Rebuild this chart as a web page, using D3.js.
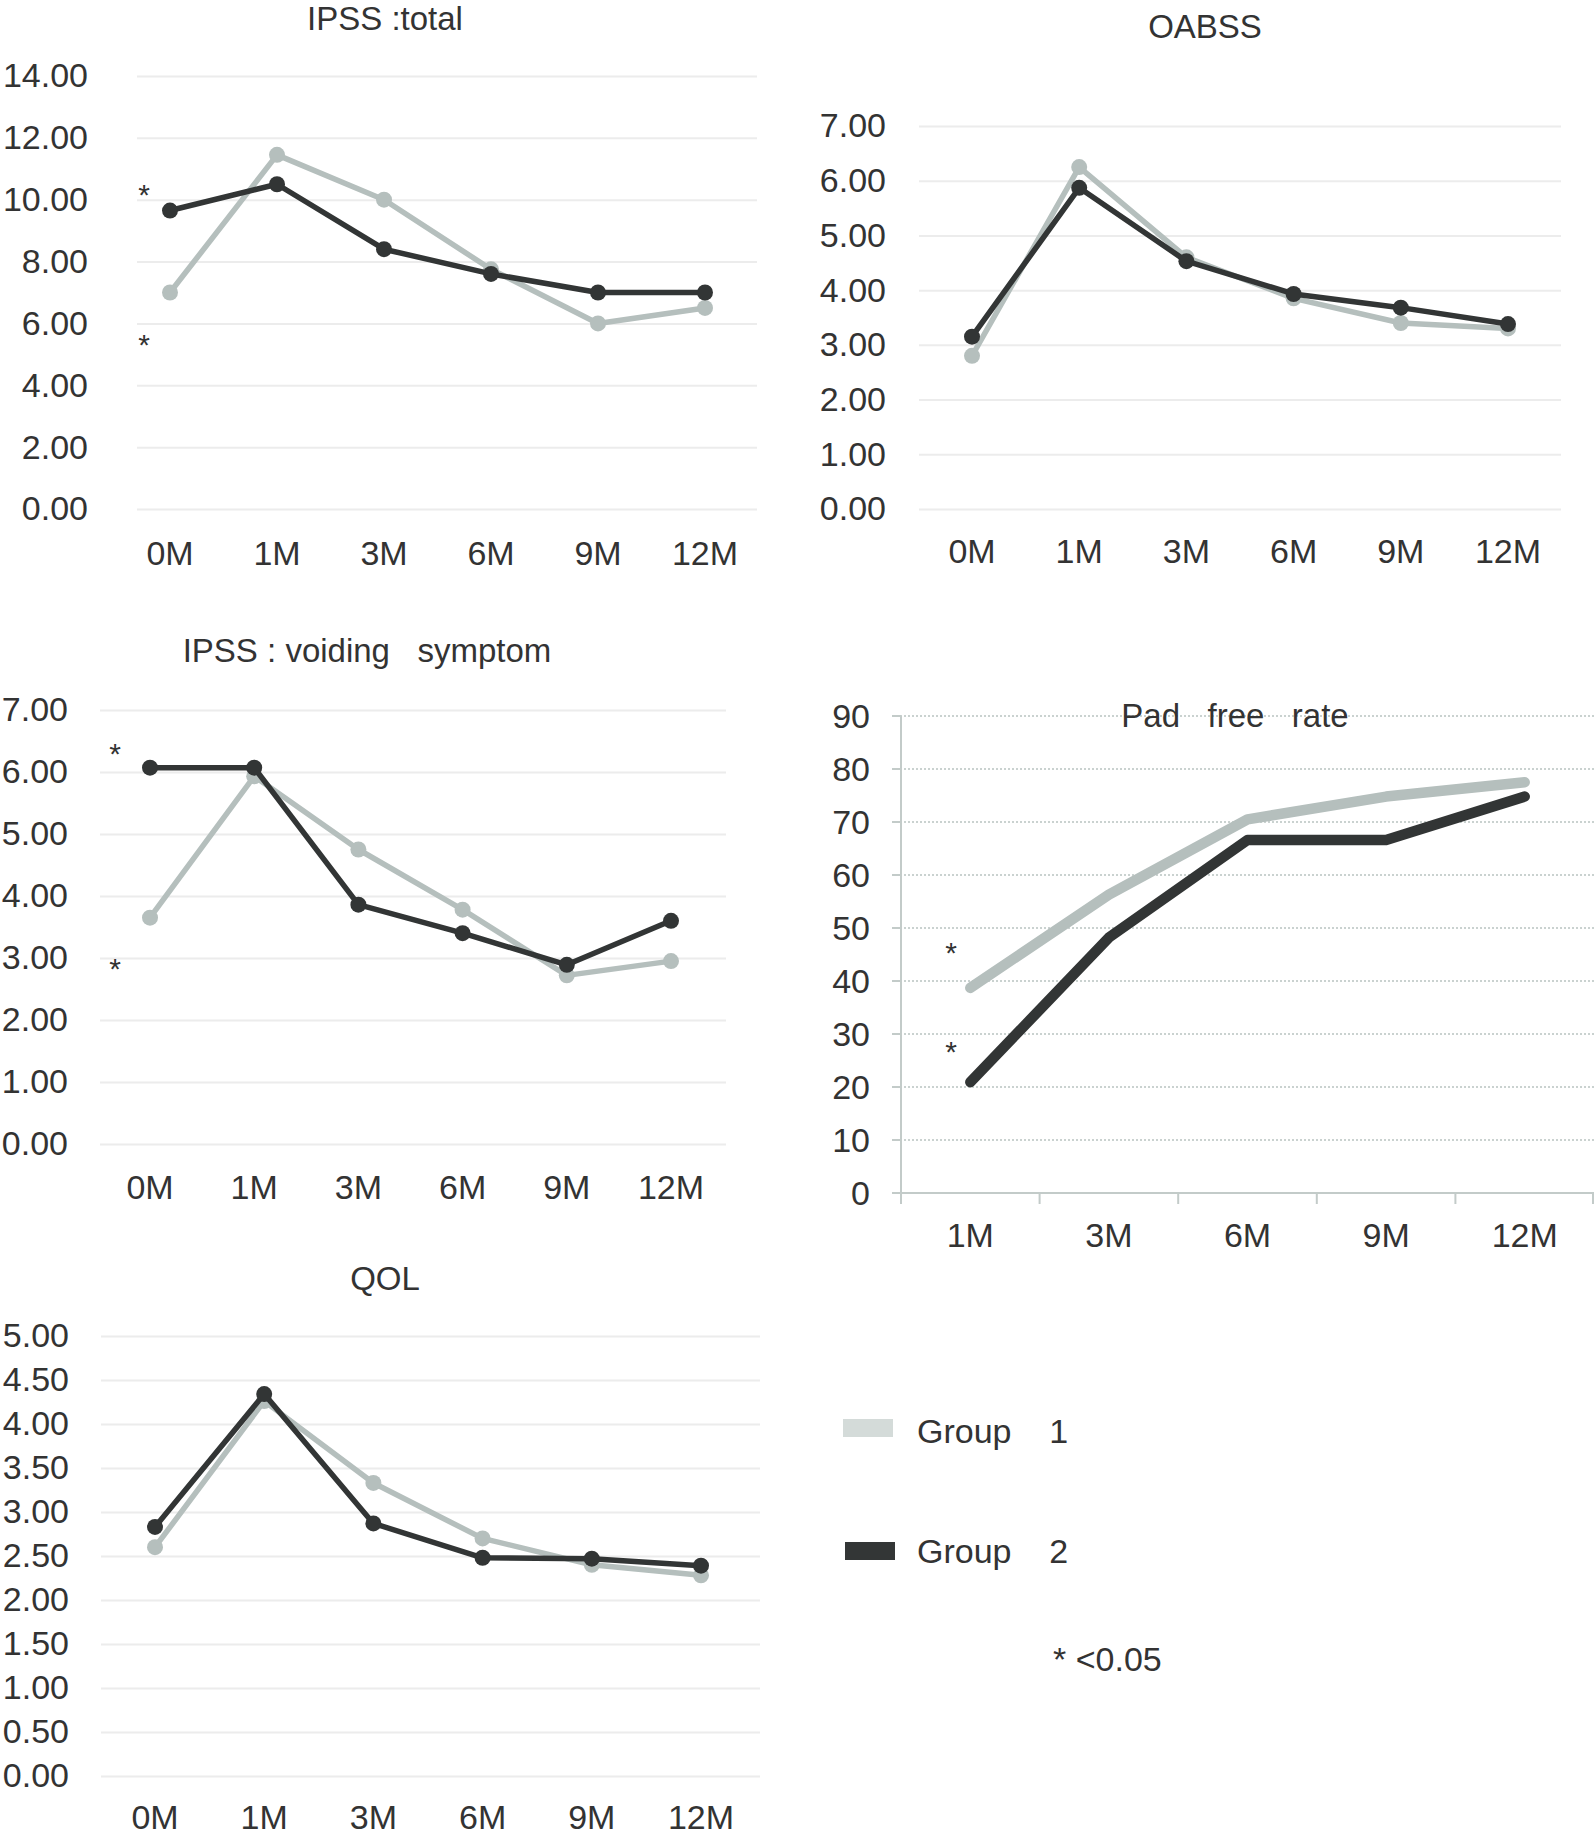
<!DOCTYPE html>
<html>
<head>
<meta charset="utf-8">
<script src="https://cdn.jsdelivr.net/npm/d3@7"></script>
<style>
  body { margin: 0; background: #fff; }
  text { font-family: "Liberation Sans", Arial, sans-serif; fill: #333; white-space: pre; }
</style>
</head>
<body>
<div id="container"></div>
<script>
// categories
var months = ["0M", "1M", "3M", "6M", "9M", "12M"];
var padMonths = ["1M", "3M", "6M", "9M", "12M"];

// series values
var ipssTotalG1 = [7.0, 11.45, 10.0, 7.75, 6.0, 6.5];
var ipssTotalG2 = [9.65, 10.5, 8.4, 7.6, 7.0, 7.0];
var oabssG1 = [2.8, 6.25, 4.6, 3.85, 3.4, 3.3];
var oabssG2 = [3.15, 5.87, 4.53, 3.93, 3.68, 3.38];
var voidingG1 = [3.65, 5.93, 4.75, 3.78, 2.72, 2.95];
var voidingG2 = [6.07, 6.07, 3.86, 3.4, 2.89, 3.6];
var qolG1 = [2.6, 4.26, 3.33, 2.7, 2.4, 2.28];
var qolG2 = [2.83, 4.34, 2.87, 2.48, 2.47, 2.39];
var padG1 = [38.7, 56.3, 70.5, 74.8, 77.5];
var padG2 = [20.9, 48.2, 66.6, 66.6, 74.8];

// tick labels
var ticks14 = [0, 2, 4, 6, 8, 10, 12, 14];
var ticks7 = [0, 1, 2, 3, 4, 5, 6, 7];
var ticks5 = [0, 0.5, 1, 1.5, 2, 2.5, 3, 3.5, 4, 4.5, 5];
var ticks90 = [0, 10, 20, 30, 40, 50, 60, 70, 80, 90];

var groups = ["Group    1", "Group    2"];
var lightCol = "#b5bfbd", darkCol = "#323535";

var W = 1594, H = 1841;
var svg = d3.select("div#container")
  .append("svg")
  .attr("width", W)
  .attr("height", H);

// small line charts with dots
function linePanel(cfg) {
  var x = d3.scalePoint().domain(months).range([cfg.x0, cfg.x1]);
  var y = d3.scaleLinear().domain([0, cfg.max]).range([cfg.yBottom, cfg.yTop]);
  var g = svg.append("g");

  var yAxis = d3.axisLeft(y)
    .tickValues(cfg.ticks)
    .tickFormat(d3.format(".2f"))
    .tickSize(-(cfg.gridRight - cfg.gridLeft))
    .tickPadding(cfg.gridLeft - cfg.labelEnd);
  var ya = g.append("g").attr("transform", "translate(" + cfg.gridLeft + ",0)").call(yAxis);
  ya.select(".domain").remove();
  ya.selectAll("line").attr("stroke", "#ececec").attr("stroke-width", 2);
  ya.selectAll("text").attr("fill", "#333").style("font-size", "34px").attr("font-family", null);

  g.selectAll(".xl").data(months).enter().append("text")
    .attr("x", function(d) { return x(d); })
    .attr("y", cfg.xLabelY)
    .attr("text-anchor", "middle")
    .style("font-size", "34px")
    .text(function(d) { return d; });

  g.append("text")
    .attr("x", cfg.titleX).attr("y", cfg.titleY)
    .attr("text-anchor", "middle")
    .style("font-size", "33px")
    .text(cfg.title);

  var line = d3.line().x(function(d, i) { return x(months[i]); }).y(function(d) { return y(d); });
  [[cfg.g1, lightCol], [cfg.g2, darkCol]].forEach(function(s) {
    g.append("path").datum(s[0])
      .attr("d", line)
      .attr("fill", "none")
      .attr("stroke", s[1])
      .attr("stroke-width", 5.5)
      .attr("stroke-linejoin", "round");
    g.selectAll(null).data(s[0]).enter().append("circle")
      .attr("cx", function(d, i) { return x(months[i]); })
      .attr("cy", function(d) { return y(d); })
      .attr("r", 8)
      .attr("fill", s[1]);
  });

  (cfg.stars || []).forEach(function(st) {
    g.append("text").attr("x", st[0]).attr("y", st[1] + 17)
      .attr("text-anchor", "middle").style("font-size", "30px").text("*");
  });
}

linePanel({title: "IPSS :total", titleX: 385, titleY: 30, max: 14, ticks: ticks14,
  g1: ipssTotalG1, g2: ipssTotalG2, x0: 170, x1: 705, gridLeft: 137, gridRight: 757,
  labelEnd: 88, yTop: 76, yBottom: 509, xLabelY: 565, stars: [[144, 188], [144, 338]]});

linePanel({title: "OABSS", titleX: 1205, titleY: 38, max: 7, ticks: ticks7,
  g1: oabssG1, g2: oabssG2, x0: 972, x1: 1508, gridLeft: 919, gridRight: 1561,
  labelEnd: 886, yTop: 126, yBottom: 509, xLabelY: 563});

linePanel({title: "IPSS : voiding   symptom", titleX: 367, titleY: 662, max: 7, ticks: ticks7,
  g1: voidingG1, g2: voidingG2, x0: 150, x1: 671, gridLeft: 100, gridRight: 726,
  labelEnd: 68, yTop: 710, yBottom: 1144, xLabelY: 1199, stars: [[115, 747], [115, 962]]});

linePanel({title: "QOL", titleX: 385, titleY: 1290, max: 5, ticks: ticks5,
  g1: qolG1, g2: qolG2, x0: 155, x1: 701, gridLeft: 101, gridRight: 760,
  labelEnd: 69, yTop: 1336, yBottom: 1776, xLabelY: 1829});

// pad free rate panel: category axis, dotted grid, thick lines
(function() {
  var x = d3.scaleBand().domain(padMonths).range([901, 1594]);
  var y = d3.scaleLinear().domain([0, 90]).range([1193, 716]);
  var g = svg.append("g");
  var axisCol = "#c3cbc9";

  g.selectAll(".grid").data(ticks90.filter(function(d) { return d > 0; })).enter().append("line")
    .attr("x1", 892).attr("x2", 1594)
    .attr("y1", function(d) { return y(d); }).attr("y2", function(d) { return y(d); })
    .attr("stroke", "#b9c3c1").attr("stroke-width", 1.5).attr("stroke-dasharray", "2,2");
  g.selectAll(".ytick").data(ticks90).enter().append("line")
    .attr("x1", 892).attr("x2", 901)
    .attr("y1", function(d) { return y(d); }).attr("y2", function(d) { return y(d); })
    .attr("stroke", axisCol).attr("stroke-width", 2);
  g.append("line").attr("x1", 901).attr("x2", 901).attr("y1", y(90)).attr("y2", 1204)
    .attr("stroke", axisCol).attr("stroke-width", 2);
  g.append("line").attr("x1", 892).attr("x2", 1594).attr("y1", y(0)).attr("y2", y(0))
    .attr("stroke", axisCol).attr("stroke-width", 2);
  var edges = padMonths.map(function(d) { return x(d); }).concat([x.range()[1] - 1]);
  g.selectAll(".xtick").data(edges).enter().append("line")
    .attr("x1", function(d) { return d; }).attr("x2", function(d) { return d; })
    .attr("y1", y(0)).attr("y2", 1204)
    .attr("stroke", axisCol).attr("stroke-width", 2);

  g.selectAll(".yl").data(ticks90).enter().append("text")
    .attr("x", 870).attr("y", function(d) { return y(d); })
    .attr("dy", "0.35em").attr("text-anchor", "end")
    .style("font-size", "34px").text(function(d) { return d; });
  g.selectAll(".xl").data(padMonths).enter().append("text")
    .attr("x", function(d) { return x(d) + x.bandwidth() / 2; })
    .attr("y", 1247).attr("text-anchor", "middle")
    .style("font-size", "34px").text(function(d) { return d; });

  g.append("text").attr("x", 1235).attr("y", 727).attr("text-anchor", "middle")
    .style("font-size", "33px").text("Pad   free   rate");

  var line = d3.line()
    .x(function(d, i) { return x(padMonths[i]) + x.bandwidth() / 2; })
    .y(function(d) { return y(d); });
  [[padG1, lightCol], [padG2, darkCol]].forEach(function(s) {
    g.append("path").datum(s[0]).attr("d", line)
      .attr("fill", "none").attr("stroke", s[1]).attr("stroke-width", 10.5)
      .attr("stroke-linecap", "round").attr("stroke-linejoin", "round");
  });

  [[951, 946], [951, 1045]].forEach(function(st) {
    g.append("text").attr("x", st[0]).attr("y", st[1] + 17)
      .attr("text-anchor", "middle").style("font-size", "30px").text("*");
  });
})();

// legend
var legend = svg.append("g");
var swatches = [{x: 843, y: 1419, c: "#d4dbd9"}, {x: 845, y: 1542, c: "#333636"}];
legend.selectAll("rect").data(groups).enter().append("rect")
  .attr("x", function(d, i) { return swatches[i].x; })
  .attr("y", function(d, i) { return swatches[i].y; })
  .attr("width", 50).attr("height", 18)
  .attr("fill", function(d, i) { return swatches[i].c; });
legend.selectAll("text").data(groups).enter().append("text")
  .attr("x", 917)
  .attr("y", function(d, i) { return i === 0 ? 1443 : 1563; })
  .style("font-size", "34px")
  .text(function(d) { return d; });
legend.append("text").attr("x", 1053).attr("y", 1671)
  .style("font-size", "34px").text("* <0.05");
</script>
</body>
</html>
